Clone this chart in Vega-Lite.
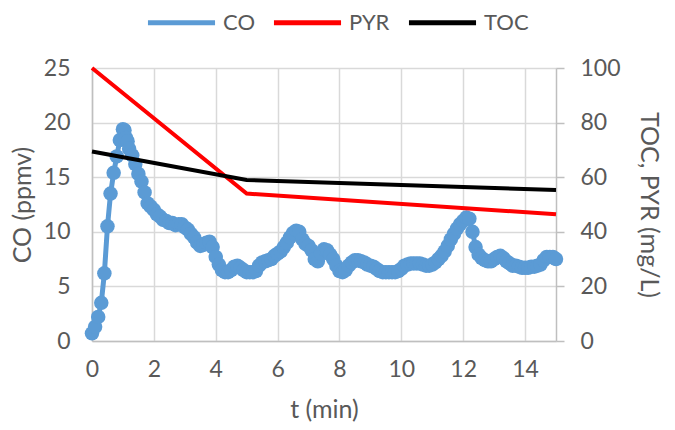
{
  "$schema": "https://vega.github.io/schema/vega-lite/v6.json",
  "width": 464,
  "height": 273,
  "autosize": {"type": "none"},
  "padding": {"left": 92, "top": 68, "right": 119, "bottom": 89},
  "background": "white",
  "config": {
    "font": "Lato",
    "view": {"stroke": null},
    "axis": {"labelFont": "Lato", "titleFont": "Lato", "labelFontSize": 23, "titleFontSize": 25, "labelColor": "#595959", "titleColor": "#595959", "titleFontWeight": "normal", "domainColor": "#bfbfbf", "domainWidth": 1.5, "gridColor": "#d9d9d9", "gridWidth": 1.5, "tickColor": "#bfbfbf", "labelFlush": false},
    "legend": {"labelFont": "Lato", "labelFontSize": 22, "labelColor": "#595959"}
  },
  "datasets": {
    "co": [
      {"t": 0.0, "CO": 0.7}, {"t": 0.1, "CO": 1.3}, {"t": 0.2, "CO": 2.2}, {"t": 0.3, "CO": 3.5},
      {"t": 0.4, "CO": 6.2}, {"t": 0.5, "CO": 10.5}, {"t": 0.6, "CO": 13.5}, {"t": 0.7, "CO": 15.4},
      {"t": 0.8, "CO": 16.9}, {"t": 0.9, "CO": 18.4}, {"t": 1.0, "CO": 19.4}, {"t": 1.05, "CO": 19.3},
      {"t": 1.1, "CO": 18.6}, {"t": 1.15, "CO": 18.3}, {"t": 1.2, "CO": 17.6}, {"t": 1.3, "CO": 17.0},
      {"t": 1.4, "CO": 16.2}, {"t": 1.5, "CO": 15.3}, {"t": 1.6, "CO": 14.6}, {"t": 1.7, "CO": 13.6},
      {"t": 1.8, "CO": 12.6}, {"t": 1.9, "CO": 12.3}, {"t": 2.0, "CO": 12.0}, {"t": 2.1, "CO": 11.6},
      {"t": 2.2, "CO": 11.4}, {"t": 2.3, "CO": 11.1}, {"t": 2.4, "CO": 11.0}, {"t": 2.5, "CO": 10.8},
      {"t": 2.6, "CO": 10.8}, {"t": 2.7, "CO": 10.6}, {"t": 2.8, "CO": 10.7}, {"t": 2.9, "CO": 10.7},
      {"t": 3.0, "CO": 10.4}, {"t": 3.1, "CO": 10.2}, {"t": 3.2, "CO": 9.8}, {"t": 3.3, "CO": 9.5},
      {"t": 3.4, "CO": 9.0}, {"t": 3.5, "CO": 8.7}, {"t": 3.6, "CO": 8.8}, {"t": 3.7, "CO": 9.0},
      {"t": 3.8, "CO": 9.1}, {"t": 3.9, "CO": 8.6}, {"t": 4.0, "CO": 7.7}, {"t": 4.1, "CO": 7.0},
      {"t": 4.2, "CO": 6.5}, {"t": 4.3, "CO": 6.3}, {"t": 4.4, "CO": 6.3}, {"t": 4.5, "CO": 6.5},
      {"t": 4.6, "CO": 6.8}, {"t": 4.7, "CO": 6.9}, {"t": 4.8, "CO": 6.7}, {"t": 4.9, "CO": 6.5},
      {"t": 5.0, "CO": 6.3}, {"t": 5.1, "CO": 6.3}, {"t": 5.2, "CO": 6.3}, {"t": 5.3, "CO": 6.4},
      {"t": 5.4, "CO": 6.9}, {"t": 5.5, "CO": 7.2}, {"t": 5.6, "CO": 7.3}, {"t": 5.7, "CO": 7.4},
      {"t": 5.8, "CO": 7.5}, {"t": 5.9, "CO": 7.8}, {"t": 6.0, "CO": 8.0}, {"t": 6.1, "CO": 8.2},
      {"t": 6.2, "CO": 8.6}, {"t": 6.3, "CO": 9.0}, {"t": 6.4, "CO": 9.5}, {"t": 6.5, "CO": 9.9},
      {"t": 6.6, "CO": 10.1}, {"t": 6.7, "CO": 10.0}, {"t": 6.8, "CO": 9.3}, {"t": 6.9, "CO": 8.9},
      {"t": 7.0, "CO": 8.7}, {"t": 7.1, "CO": 8.3}, {"t": 7.2, "CO": 7.5}, {"t": 7.3, "CO": 7.3},
      {"t": 7.4, "CO": 8.0}, {"t": 7.5, "CO": 8.4}, {"t": 7.6, "CO": 8.3}, {"t": 7.7, "CO": 7.9},
      {"t": 7.8, "CO": 7.5}, {"t": 7.9, "CO": 6.9}, {"t": 8.0, "CO": 6.4}, {"t": 8.1, "CO": 6.3},
      {"t": 8.2, "CO": 6.5}, {"t": 8.3, "CO": 6.9}, {"t": 8.4, "CO": 7.2}, {"t": 8.5, "CO": 7.4},
      {"t": 8.6, "CO": 7.4}, {"t": 8.7, "CO": 7.3}, {"t": 8.8, "CO": 7.2}, {"t": 8.9, "CO": 7.0},
      {"t": 9.0, "CO": 6.9}, {"t": 9.1, "CO": 6.8}, {"t": 9.2, "CO": 6.6}, {"t": 9.3, "CO": 6.4},
      {"t": 9.4, "CO": 6.3}, {"t": 9.5, "CO": 6.3}, {"t": 9.6, "CO": 6.3}, {"t": 9.7, "CO": 6.3},
      {"t": 9.8, "CO": 6.3}, {"t": 9.9, "CO": 6.4}, {"t": 10.0, "CO": 6.6}, {"t": 10.1, "CO": 6.9},
      {"t": 10.2, "CO": 7.0}, {"t": 10.3, "CO": 7.1}, {"t": 10.4, "CO": 7.1}, {"t": 10.5, "CO": 7.1},
      {"t": 10.6, "CO": 7.1}, {"t": 10.7, "CO": 7.0}, {"t": 10.8, "CO": 6.9}, {"t": 10.9, "CO": 6.9},
      {"t": 11.0, "CO": 7.0}, {"t": 11.1, "CO": 7.2}, {"t": 11.2, "CO": 7.5}, {"t": 11.3, "CO": 7.8},
      {"t": 11.4, "CO": 8.2}, {"t": 11.5, "CO": 8.7}, {"t": 11.6, "CO": 9.3}, {"t": 11.7, "CO": 9.8},
      {"t": 11.8, "CO": 10.3}, {"t": 11.9, "CO": 10.7}, {"t": 12.0, "CO": 11.0}, {"t": 12.1, "CO": 11.3},
      {"t": 12.2, "CO": 11.2}, {"t": 12.3, "CO": 10.0}, {"t": 12.4, "CO": 8.6}, {"t": 12.5, "CO": 7.9},
      {"t": 12.6, "CO": 7.6}, {"t": 12.7, "CO": 7.4}, {"t": 12.8, "CO": 7.3}, {"t": 12.9, "CO": 7.3},
      {"t": 13.0, "CO": 7.5}, {"t": 13.1, "CO": 7.7}, {"t": 13.2, "CO": 7.8}, {"t": 13.3, "CO": 7.6},
      {"t": 13.4, "CO": 7.3}, {"t": 13.5, "CO": 7.1}, {"t": 13.6, "CO": 6.9}, {"t": 13.7, "CO": 6.9},
      {"t": 13.8, "CO": 6.8}, {"t": 13.9, "CO": 6.7}, {"t": 14.0, "CO": 6.7}, {"t": 14.1, "CO": 6.7},
      {"t": 14.2, "CO": 6.8}, {"t": 14.3, "CO": 6.8}, {"t": 14.4, "CO": 6.9}, {"t": 14.5, "CO": 7.0},
      {"t": 14.6, "CO": 7.4}, {"t": 14.7, "CO": 7.7}, {"t": 14.8, "CO": 7.7}, {"t": 14.9, "CO": 7.7},
      {"t": 15.0, "CO": 7.5}
    ],
    "lines": [
      {"t": 0, "value": 100, "series": "PYR"},
      {"t": 5, "value": 54, "series": "PYR"},
      {"t": 15, "value": 46.4, "series": "PYR"},
      {"t": 0, "value": 69.4, "series": "TOC"},
      {"t": 5, "value": 59, "series": "TOC"},
      {"t": 15, "value": 55.3, "series": "TOC"}
    ]
  },
  "layer": [
    {
      "data": {"name": "co"},
      "transform": [{"calculate": "'CO'", "as": "series"}],
      "mark": {"type": "line", "strokeWidth": 5, "point": {"filled": true, "size": 210, "opacity": 1}},
      "encoding": {
        "x": {"field": "t", "type": "quantitative", "scale": {"domain": [0, 15], "nice": false},
          "axis": {"title": "t (min)", "values": [0, 2, 4, 6, 8, 10, 12, 14], "grid": true, "ticks": false, "labelPadding": 17, "titlePadding": 16}},
        "y": {"field": "CO", "type": "quantitative", "scale": {"domain": [0, 25], "nice": false},
          "axis": {"title": "CO (ppmv)", "values": [0, 5, 10, 15, 20, 25], "grid": true, "ticks": false, "labelPadding": 22, "titlePadding": 8}},
        "color": {"field": "series", "type": "nominal",
          "scale": {"domain": ["CO", "PYR", "TOC"], "range": ["#5B9BD5", "#FF0000", "#000000"]},
          "legend": {"title": null, "orient": "none", "direction": "horizontal", "legendX": 53, "legendY": -82, "symbolType": "stroke", "symbolSize": 4500, "symbolStrokeWidth": 5, "columnPadding": 8, "labelOffset": 5}}
      }
    },
    {
      "data": {"name": "lines"},
      "mark": {"type": "line", "strokeWidth": 4},
      "encoding": {
        "x": {"field": "t", "type": "quantitative", "scale": {"domain": [0, 15], "nice": false}},
        "y": {"field": "value", "type": "quantitative", "scale": {"domain": [0, 100], "nice": false},
          "axis": {"title": "TOC, PYR (mg/L)", "orient": "right", "values": [0, 20, 40, 60, 80, 100], "grid": false, "ticks": true, "tickSize": 8, "tickWidth": 1.5, "labelPadding": 16, "titlePadding": 15}},
        "color": {"field": "series", "type": "nominal"},
        "strokeWidth": {"condition": {"test": "datum.series === 'TOC'", "value": 3.5}, "value": 4.5}
      }
    }
  ],
  "resolve": {"scale": {"y": "independent"}}
}
